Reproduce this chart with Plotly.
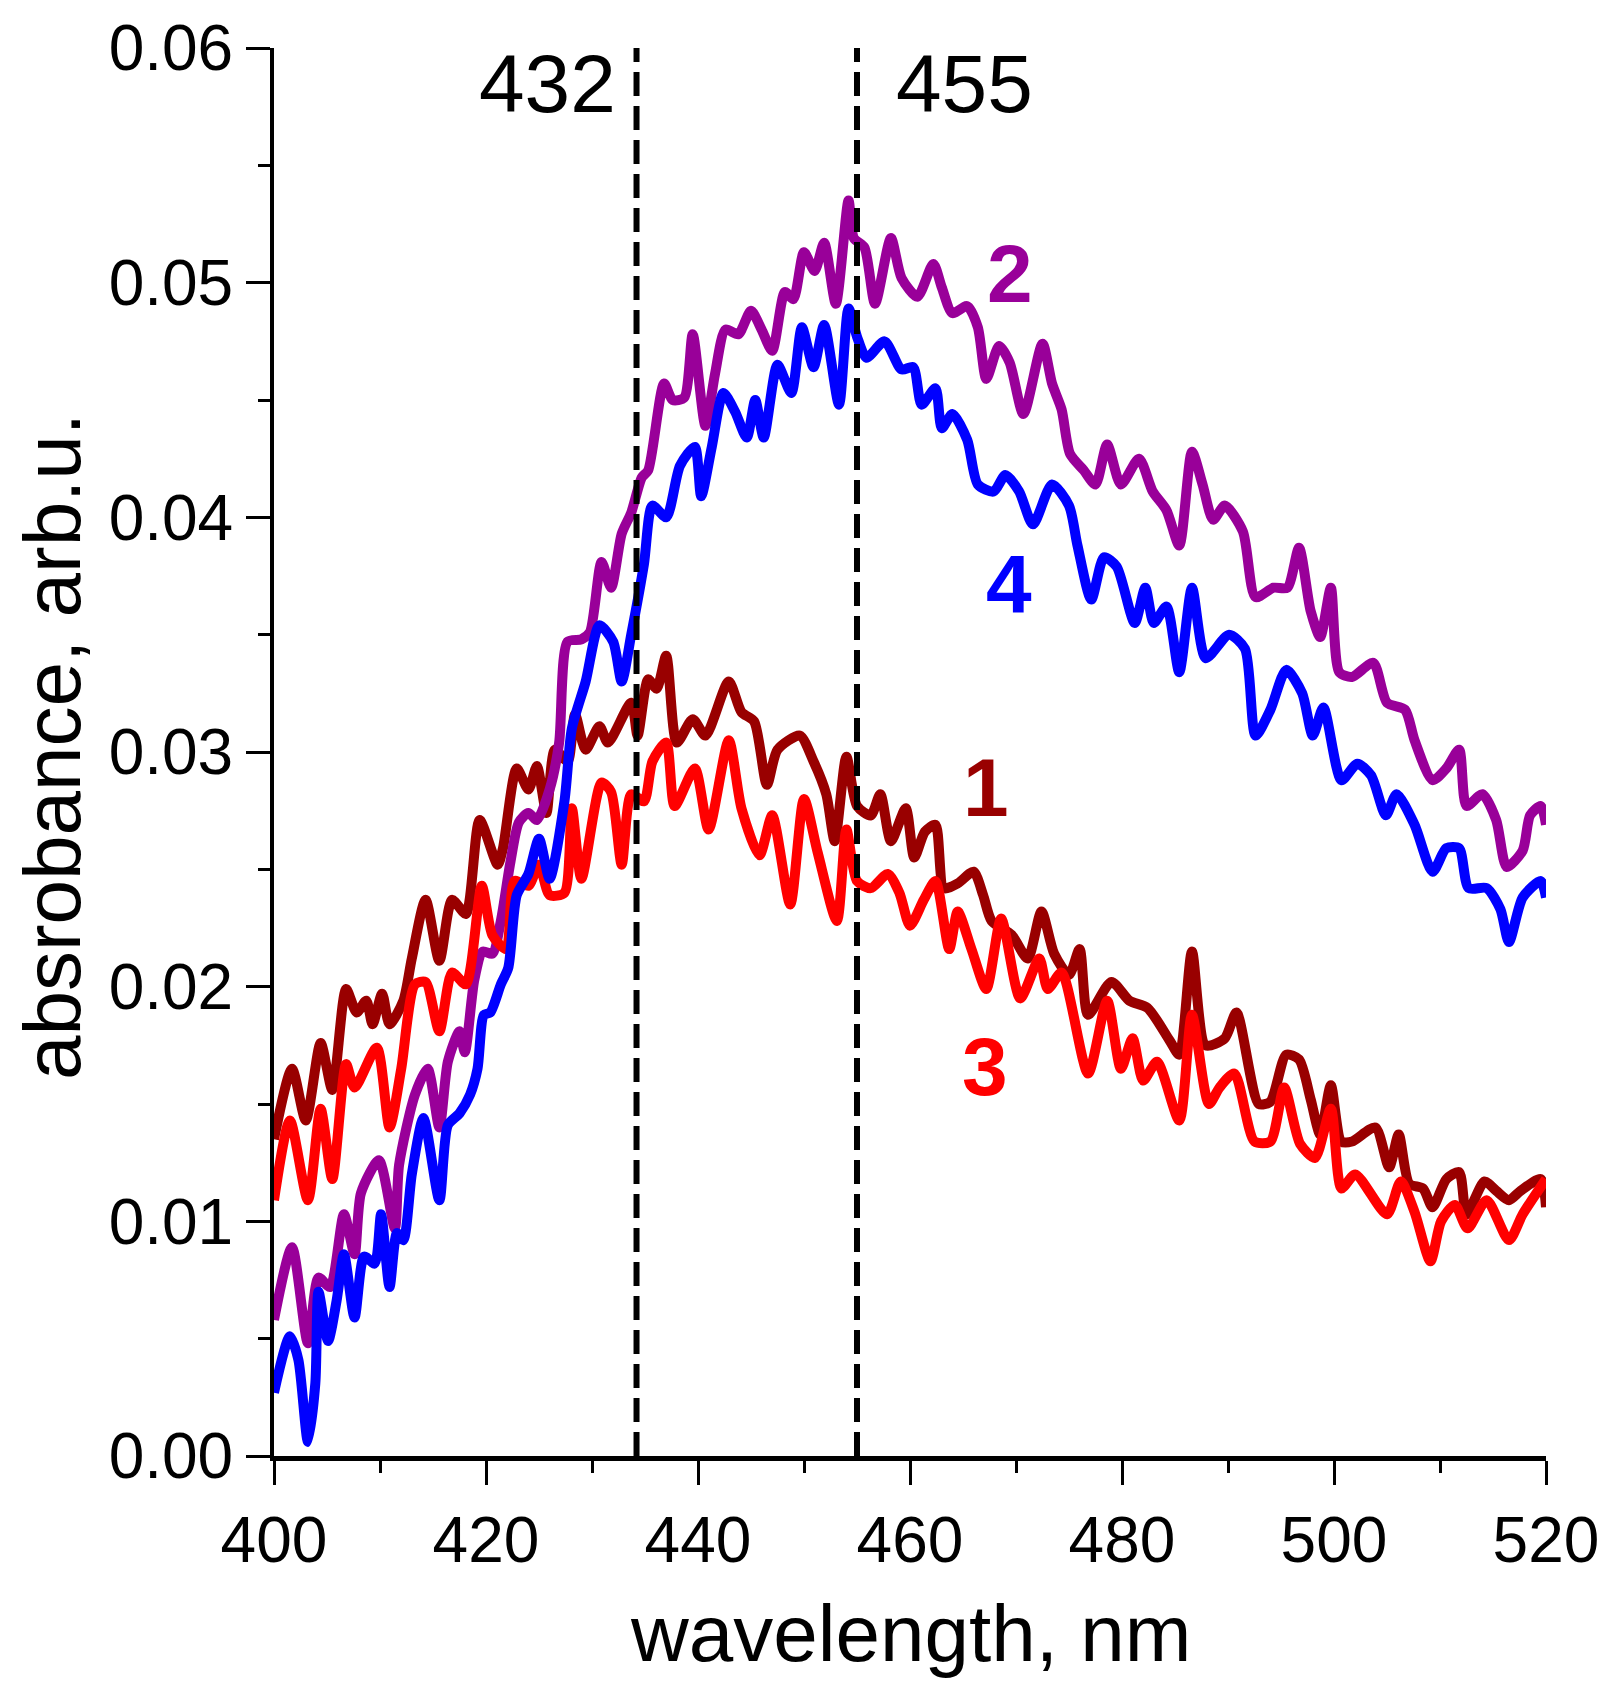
import plotly.graph_objects as go

# ---------------- data ----------------
wl_1 = [400.0, 401.7, 403.0, 404.4, 405.5, 406.8, 407.8, 408.7, 409.3, 410.2, 410.9, 412.2, 413.0, 414.3,
        415.6, 416.8, 418.1, 419.4, 421.1, 421.6, 422.9, 424.0, 424.8, 425.7, 426.5, 427.7, 428.4, 429.4,
        430.7, 431.5, 433.7, 434.3, 435.3, 436.1, 437.0, 438.0, 439.5, 440.7, 442.9, 444.1, 445.3, 446.5,
        447.5, 449.6, 450.9, 452.1, 452.9, 454.0, 455.0, 456.3, 457.2, 458.2, 459.6, 460.4, 461.4, 462.4,
        463.2, 464.5, 466.0, 466.9, 467.7, 469.6, 471.1, 472.4, 473.6, 475.0, 476.0, 476.8, 479.0, 480.7,
        482.4, 484.5, 485.4, 486.6, 487.9, 489.7, 490.8, 492.9, 494.0, 495.5, 496.7, 497.8, 498.7, 499.7,
        500.7, 501.7, 503.9, 505.2, 506.1, 507.1, 508.4, 509.3, 510.6, 511.8, 512.5, 514.2, 515.3, 516.5,
        517.6, 519.5, 520.0]
abs_1 = [0.0135, 0.0165, 0.0143, 0.0176, 0.0156, 0.0199, 0.0189, 0.0194, 0.0184, 0.0197, 0.0184, 0.0194, 0.0212, 0.0237,
         0.0211, 0.0237, 0.0231, 0.0271, 0.0252, 0.0259, 0.0293, 0.0284, 0.0294, 0.0274, 0.0301, 0.0296, 0.0316, 0.0301,
         0.0311, 0.0304, 0.0321, 0.0307, 0.0331, 0.0327, 0.0341, 0.0304, 0.0314, 0.0307, 0.0330, 0.0317, 0.0313, 0.0286,
         0.0301, 0.0307, 0.0296, 0.0282, 0.0262, 0.0298, 0.0277, 0.0273, 0.0282, 0.0262, 0.0276, 0.0255, 0.0266, 0.0269,
         0.0242, 0.0244, 0.0249, 0.0239, 0.0228, 0.0222, 0.0212, 0.0232, 0.0214, 0.0205, 0.0216, 0.0188, 0.0202, 0.0194,
         0.0191, 0.0177, 0.0171, 0.0215, 0.0175, 0.0178, 0.0189, 0.0150, 0.0151, 0.0171, 0.0169, 0.0152, 0.0137, 0.0158,
         0.0134, 0.0134, 0.0140, 0.0123, 0.0137, 0.0116, 0.0114, 0.0106, 0.0118, 0.0121, 0.0103, 0.0117, 0.0113, 0.0109,
         0.0113, 0.0118, 0.0106]

wl_2 = [400.0, 401.7, 403.2, 404.2, 405.3, 406.6, 407.6, 408.2, 409.9, 411.4, 411.8, 413.3, 414.5, 415.6,
        416.4, 417.5, 418.0, 418.9, 419.7, 420.6, 421.4, 422.3, 423.1, 424.0, 424.8, 426.0, 426.9, 427.7,
        429.0, 429.8, 430.9, 431.8, 432.8, 433.7, 434.7, 435.3, 436.8, 437.6, 438.7, 439.5, 440.7, 441.6,
        442.6, 443.8, 445.0, 446.0, 447.0, 448.2, 449.0, 450.0, 451.0, 451.9, 453.0, 454.2, 454.7, 455.7,
        456.7, 458.2, 459.2, 460.7, 462.2, 463.0, 464.0, 465.4, 466.4, 467.2, 468.4, 469.4, 470.7, 472.5,
        473.4, 474.3, 475.1, 476.4, 477.5, 478.6, 479.9, 481.6, 482.9, 484.2, 485.4, 486.6, 487.6, 488.6,
        489.7, 491.4, 492.6, 494.3, 495.6, 496.7, 497.8, 498.7, 499.7, 500.5, 501.7, 503.7, 505.0, 506.7,
        507.6, 509.3, 510.6, 511.8, 512.5, 514.0, 515.3, 516.3, 517.8, 518.5, 519.5, 520.0]
abs_2 = [0.0058, 0.0089, 0.0048, 0.0076, 0.0072, 0.0103, 0.0086, 0.0112, 0.0126, 0.0097, 0.0124, 0.0154, 0.0165, 0.0140,
         0.0168, 0.0181, 0.0172, 0.0203, 0.0215, 0.0214, 0.0228, 0.0253, 0.0270, 0.0274, 0.0271, 0.0284, 0.0304, 0.0347,
         0.0348, 0.0351, 0.0381, 0.0370, 0.0393, 0.0402, 0.0417, 0.0420, 0.0457, 0.0450, 0.0451, 0.0478, 0.0439, 0.0461,
         0.0480, 0.0478, 0.0488, 0.0480, 0.0471, 0.0496, 0.0493, 0.0513, 0.0505, 0.0517, 0.0491, 0.0535, 0.0519, 0.0515,
         0.0491, 0.0519, 0.0502, 0.0494, 0.0508, 0.0498, 0.0487, 0.0490, 0.0481, 0.0459, 0.0473, 0.0466, 0.0444, 0.0474,
         0.0457, 0.0446, 0.0427, 0.0420, 0.0414, 0.0431, 0.0414, 0.0425, 0.0411, 0.0403, 0.0388, 0.0428, 0.0414, 0.0399,
         0.0405, 0.0394, 0.0366, 0.0370, 0.0370, 0.0387, 0.0360, 0.0349, 0.0370, 0.0334, 0.0332, 0.0338, 0.0321, 0.0318,
         0.0305, 0.0288, 0.0293, 0.0301, 0.0277, 0.0282, 0.0271, 0.0251, 0.0258, 0.0273, 0.0277, 0.0269]

wl_3 = [400.0, 401.5, 403.2, 404.4, 405.5, 406.8, 407.6, 409.7, 410.9, 412.0, 413.3, 414.3, 415.6, 416.8,
        418.1, 419.6, 420.6, 421.9, 422.7, 424.0, 425.0, 426.0, 427.4, 428.1, 429.0, 430.9, 431.8, 432.8,
        433.7, 434.9, 435.7, 437.0, 437.8, 439.7, 441.0, 442.9, 444.1, 445.8, 447.0, 448.7, 450.0, 451.3,
        453.1, 454.0, 455.0, 456.3, 457.9, 459.0, 460.0, 461.3, 462.4, 463.7, 464.5, 465.8, 467.2, 468.6,
        470.4, 472.2, 473.0, 474.3, 476.8, 478.6, 479.9, 481.0, 482.0, 483.3, 485.4, 486.6, 488.2, 489.2,
        490.6, 492.5, 494.0, 495.3, 496.8, 498.2, 499.7, 500.7, 502.0, 505.0, 506.3, 507.6, 509.1, 510.1,
        511.4, 512.6, 514.4, 516.5, 517.8, 520.0]
abs_3 = [0.0109, 0.0143, 0.0109, 0.0148, 0.0118, 0.0167, 0.0157, 0.0174, 0.0140, 0.0165, 0.0201, 0.0202, 0.0181, 0.0206,
         0.0201, 0.0243, 0.0222, 0.0216, 0.0245, 0.0243, 0.0252, 0.0239, 0.0240, 0.0276, 0.0246, 0.0287, 0.0283, 0.0252,
         0.0282, 0.0279, 0.0296, 0.0304, 0.0277, 0.0293, 0.0267, 0.0305, 0.0276, 0.0256, 0.0273, 0.0235, 0.0280, 0.0257,
         0.0228, 0.0267, 0.0245, 0.0242, 0.0248, 0.0240, 0.0226, 0.0237, 0.0245, 0.0216, 0.0232, 0.0216, 0.0199, 0.0229,
         0.0195, 0.0212, 0.0199, 0.0206, 0.0163, 0.0194, 0.0165, 0.0178, 0.0160, 0.0168, 0.0143, 0.0188, 0.0150, 0.0157,
         0.0163, 0.0134, 0.0134, 0.0157, 0.0133, 0.0127, 0.0148, 0.0114, 0.0120, 0.0103, 0.0117, 0.0104, 0.0083, 0.0100,
         0.0107, 0.0097, 0.0109, 0.0092, 0.0103, 0.0118]

wl_4 = [400.0, 401.5, 402.3, 403.2, 403.9, 404.2, 405.1, 405.9, 406.6, 407.6, 408.5, 409.5, 410.1, 410.9,
        411.6, 412.2, 413.0, 414.1, 415.6, 416.4, 417.5, 418.5, 419.2, 419.8, 420.4, 421.4, 422.1, 422.9,
        424.0, 425.0, 426.0, 427.4, 428.1, 429.4, 430.7, 432.0, 432.8, 433.7, 434.9, 435.7, 437.0, 438.3,
        439.7, 440.3, 441.3, 442.4, 443.5, 444.6, 445.4, 446.2, 447.5, 448.8, 449.8, 450.9, 451.9, 453.3,
        454.2, 455.0, 455.9, 457.6, 459.2, 460.3, 461.1, 462.4, 463.0, 464.0, 465.4, 466.4, 467.9, 469.0,
        470.3, 471.6, 473.4, 475.0, 475.8, 477.1, 478.3, 479.5, 481.2, 482.2, 483.0, 484.2, 485.4, 486.6,
        487.9, 490.1, 491.6, 492.6, 494.0, 495.5, 497.0, 498.0, 499.0, 500.7, 502.2, 503.5, 504.9, 505.9,
        507.6, 509.3, 510.6, 511.8, 512.7, 514.4, 515.7, 516.5, 517.8, 519.5, 520.0]
abs_4 = [0.0027, 0.0051, 0.0041, 0.0006, 0.0031, 0.0070, 0.0049, 0.0066, 0.0086, 0.0059, 0.0085, 0.0082, 0.0103, 0.0072,
         0.0095, 0.0092, 0.0120, 0.0144, 0.0109, 0.0141, 0.0146, 0.0154, 0.0165, 0.0188, 0.0189, 0.0201, 0.0208, 0.0239,
         0.0248, 0.0263, 0.0246, 0.0279, 0.0310, 0.0330, 0.0354, 0.0347, 0.0330, 0.0350, 0.0380, 0.0405, 0.0400, 0.0422,
         0.0430, 0.0409, 0.0430, 0.0453, 0.0445, 0.0434, 0.0450, 0.0434, 0.0465, 0.0453, 0.0481, 0.0464, 0.0482, 0.0448,
         0.0489, 0.0477, 0.0468, 0.0475, 0.0463, 0.0464, 0.0448, 0.0455, 0.0438, 0.0444, 0.0433, 0.0414, 0.0411, 0.0418,
         0.0411, 0.0397, 0.0414, 0.0405, 0.0388, 0.0365, 0.0383, 0.0379, 0.0355, 0.0370, 0.0355, 0.0362, 0.0334, 0.0370,
         0.0340, 0.0350, 0.0344, 0.0307, 0.0318, 0.0335, 0.0325, 0.0307, 0.0319, 0.0288, 0.0295, 0.0290, 0.0273, 0.0282,
         0.0269, 0.0249, 0.0259, 0.0259, 0.0242, 0.0242, 0.0233, 0.0219, 0.0238, 0.0245, 0.0238]

peak_lines = [434.2, 455.0]
peak_labels = ["432", "455"]
peak_label_x = [425.8, 465.1]

curve_names = ["1", "2", "3", "4"]
curve_colors = ["#990000", "#990099", "#FF0000", "#0000FF"]
label_pos = [(467.2, 0.0285), (469.4, 0.0504), (467.1, 0.0166), (469.3, 0.0372)]

FONT = "Liberation Sans, Arial, sans-serif"

fig = go.Figure()
series = [(wl_1, abs_1), (wl_2, abs_2), (wl_3, abs_3), (wl_4, abs_4)]
for (wx, wy), name, col in zip(series, curve_names, curve_colors):
    fig.add_trace(go.Scatter(x=wx, y=wy, mode="lines", name=name,
                             line=dict(color=col, width=10, shape="spline", smoothing=0.7),
                             showlegend=False))

for xv in peak_lines:
    fig.add_shape(type="line", xref="x", yref="y", x0=xv, x1=xv, y0=0, y1=0.06,
                  line=dict(color="black", width=6, dash="24px,10px"), layer="above")

for txt, xv in zip(peak_labels, peak_label_x):
    fig.add_annotation(x=xv, y=0.0585, xref="x", yref="y", text=txt, showarrow=False,
                       font=dict(family=FONT, size=82, color="black"),
                       xanchor="center", yanchor="middle")

for name, col, (lx, ly) in zip(curve_names, curve_colors, label_pos):
    fig.add_annotation(x=lx, y=ly, xref="x", yref="y", text="<b>%s</b>" % name, showarrow=False,
                       font=dict(family=FONT, size=82, color=col),
                       xanchor="center", yanchor="middle")

# axis titles
fig.add_annotation(x=0.5, y=-0.126, xref="paper", yref="paper", text="wavelength, nm",
                   showarrow=False, font=dict(family=FONT, size=80, color="black"),
                   xanchor="center", yanchor="middle")
fig.add_annotation(x=-0.174, y=0.504, xref="paper", yref="paper", text="absrobance, arb.u.",
                   showarrow=False, textangle=-90, font=dict(family=FONT, size=80, color="black"),
                   xanchor="center", yanchor="middle")

fig.update_xaxes(range=[400, 520], tickmode="linear", tick0=400, dtick=20,
                 ticks="outside", ticklen=24, tickwidth=3, tickcolor="black",
                 minor=dict(ticks="outside", dtick=10, ticklen=12, tickwidth=3, tickcolor="black"),
                 showline=True, linewidth=5, linecolor="black", mirror=False,
                 showgrid=False, zeroline=False,
                 tickfont=dict(family=FONT, size=64, color="black"))
fig.update_yaxes(range=[0, 0.06], tickmode="linear", tick0=0, dtick=0.01, tickformat=".2f",
                 ticks="outside", ticklen=24, tickwidth=3, tickcolor="black",
                 minor=dict(ticks="outside", dtick=0.005, ticklen=12, tickwidth=3, tickcolor="black"),
                 showline=True, linewidth=4, linecolor="black", mirror=False,
                 showgrid=False, zeroline=False,
                 tickfont=dict(family=FONT, size=64, color="black"))

fig.update_layout(width=1611, height=1684,
                  margin=dict(l=274, r=62, t=43, b=228),
                  paper_bgcolor="white", plot_bgcolor="white")

fig.write_html("out.html")
